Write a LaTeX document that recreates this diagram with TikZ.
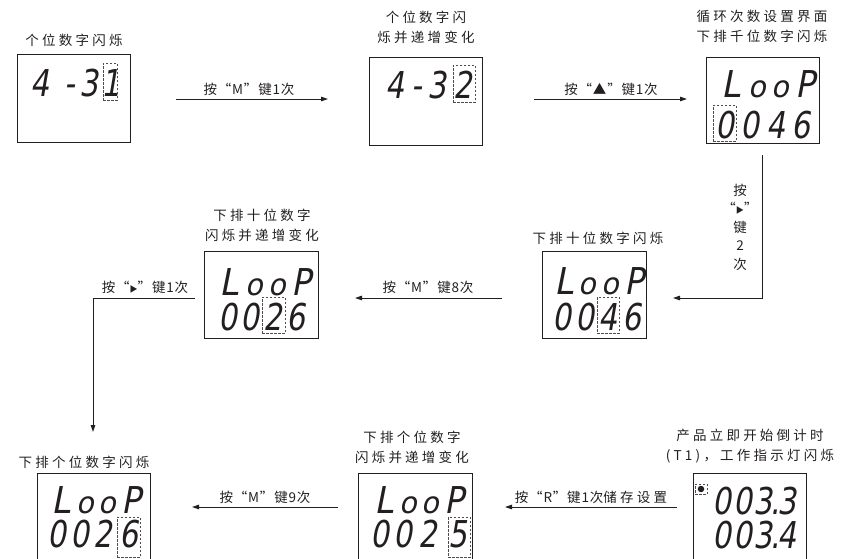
\documentclass[tikz,border=0pt]{standalone}
\usepackage{fontspec}
\usetikzlibrary{arrows.meta}
\newfontfamily\cjk[LetterSpace=24]{Noto Sans CJK SC}
\newfontfamily\cjkarr[LetterSpace=6]{Noto Sans CJK SC}
\newfontfamily\lcdfont[FakeSlant=0.17,FakeStretch=0.8]{DejaVu Sans}
\definecolor{ink}{RGB}{35,31,32}
\newcommand\lo{\scalebox{1.2}[1]{\fontsize{30}{30}\selectfont o}}
\newcommand\lL{\scalebox{1.15}[1]{L}}
\newcommand\lP{\scalebox{1.1}[1]{P}}
\newcommand\tri{\scalebox{0.6}{▶}}
\newcommand\lcdrow[4]{\foreach \xx/\cc [count=\i] in {#4}{\node[lcdch] (#1\i) at ({#2+\xx},#3) {\cc};}}
\tikzset{
  lcdbox/.style={draw=ink, line width=1.3pt, minimum width=113pt, minimum height=88pt, anchor=north west, inner sep=0pt},
  lcdch/.style={font=\lcdfont\fontsize{37}{37}\selectfont, text=ink, inner sep=0pt, anchor=base, text depth=0pt},
  hl/.style={draw=ink!80, line width=0.7pt, dash pattern=on 2.5pt off 1.5pt, anchor=north west, inner sep=0pt},
  lab/.style={font=\cjk\fontsize{13.5}{20}\selectfont, text=ink, align=center, inner sep=0pt},
  alab/.style={font=\cjkarr\fontsize{13.5}{16}\selectfont, text=ink, inner sep=0pt},
  vlab/.style={font=\cjkarr\fontsize{13.5}{18.5}\selectfont, text=ink, align=center, inner sep=0pt},
  arr/.style={draw=ink, line width=0.9pt, -{Triangle[length=7pt,width=4.5pt]}},
}
\begin{document}
\begin{tikzpicture}[x=1pt,y=-1pt]
\useasboundingbox (0,0) rectangle (854,558);
% boxes
\node[lcdbox] (b1) at (17,54) {};
\node[lcdbox] (b2) at (369,57) {};
\node[lcdbox, minimum height=86pt] (b3) at (706,57) {};
\node[lcdbox, minimum width=104pt, minimum height=87pt] (b4) at (542,251) {};
\node[lcdbox, minimum width=114pt, minimum height=87pt] (b5) at (204,251) {};
\node[lcdbox] (b6) at (37,473) {};
\node[lcdbox, minimum width=114pt] (b7) at (358,473) {};
\node[lcdbox] (b8) at (693,473) {};
% labels
\node[lab] (l1) at (74,40) {个位数字闪烁};
\node[lab] (l2) at (426,27) {个位数字闪\\烁并递增变化};
\node[lab] (l3) at (762,26) {循环次数设置界面\\下排千位数字闪烁};
\node[lab] (l4) at (598,238) {下排十位数字闪烁};
\node[lab] (l5) at (262,225) {下排十位数字\\闪烁并递增变化};
\node[lab] (l6) at (84,462) {下排个位数字闪烁};
\node[lab] (l7) at (412,447) {下排个位数字\\闪烁并递增变化};
\node[lab] (l8) at (750,446) {产品立即开始倒计时\\(T1)，工作指示灯闪烁};
% LCD contents
\lcdrow{c1a}{0}{96}{40/4,70/-,89/3,111/1}
\node[hl, minimum width=14pt, minimum height=37pt] (h1) at (103,63) {};
\lcdrow{c2a}{0}{98}{395/4,417/-,437/3,463/2}
\node[hl, minimum width=22pt, minimum height=37pt] (h2) at (453,65) {};
\lcdrow{c3a}{706}{97}{25/\lL,51/\lo,74/\lo,99/\lP}
\lcdrow{c3b}{706}{138}{19/0,44/0,70/4,95/6}
\node[hl, minimum width=23pt, minimum height=36pt] (h3) at (713,105) {};
\lcdrow{c4a}{542}{294}{22/\lL,45/\lo,68/\lo,92/\lP}
\lcdrow{c4b}{542}{330}{20/0,43/0,66/4,90/6}
\node[hl, minimum width=22pt, minimum height=36pt] (h4) at (597,297) {};
\lcdrow{c5a}{204}{295}{25/\lL,50/\lo,73/\lo,97/\lP}
\lcdrow{c5b}{204}{330}{24/0,46/0,69/2,92/6}
\node[hl, minimum width=23pt, minimum height=36pt] (h5) at (262,297) {};
\lcdrow{c6a}{37}{513}{24/\lL,48/\lo,70/\lo,94/\lP}
\lcdrow{c6b}{37}{547}{20/0,43/0,66/2,92/6}
\node[hl, minimum width=23pt, minimum height=40pt] (h6) at (117,517) {};
\lcdrow{c7a}{358}{513}{26/\lL,50/\lo,72/\lo,96/\lP}
\lcdrow{c7b}{358}{547}{22/0,45/0,70/2,100/5}
\node[hl, minimum width=22pt, minimum height=40pt] (h7) at (448,517) {};
\lcdrow{c8a}{693}{514}{29/0,50/0,70/3,82/.,94/3}
\lcdrow{c8b}{693}{548}{29/0,50/0,70/3,82/.,94/4}
\node[circle, fill=ink, inner sep=0pt, minimum size=6.5pt] (dot) at (701,489) {};
\node[hl, minimum width=12pt, minimum height=10pt, anchor=center] (hd) at (701,489) {};
% arrow labels
\node[alab] (t1) at (249,89) {按“M”键1次};
\node[alab] (t2) at (611,89) {按“▲”键1次};
\node[alab] (t3) at (428,287) {按“M”键8次};
\node[alab] (t4) at (145,287) {按“\tri”键1次};
\node[alab] (t5) at (265,497) {按“M”键9次};
\node[alab] (t6) at (591,497) {按“R”键1次{\cjk 储存设置}};
\node[vlab] (t7) at (740,227) {按\\“\tri”\\键\\2\\次};
% connectors
\coordinate (a1s) at (176,99); \coordinate (a1e) at (328,99);
\coordinate (a2s) at (534,99); \coordinate (a2e) at (687,99);
\coordinate (v1) at (762,155); \coordinate (v2) at (673,298);
\coordinate (a3s) at (502,298); \coordinate (a3e) at (355,298);
\coordinate (w1) at (195,298); \coordinate (w2) at (93,432);
\coordinate (a4s) at (338,507); \coordinate (a4e) at (192,507);
\coordinate (a5s) at (677,507); \coordinate (a5e) at (505,507);
\draw[arr] (a1s) -- (a1e);
\draw[arr] (a2s) -- (a2e);
\draw[arr] (v1) |- (v2);
\draw[arr] (a3s) -- (a3e);
\draw[arr] (w1) -| (w2);
\draw[arr] (a4s) -- (a4e);
\draw[arr] (a5s) -- (a5e);
\end{tikzpicture}
\end{document}
